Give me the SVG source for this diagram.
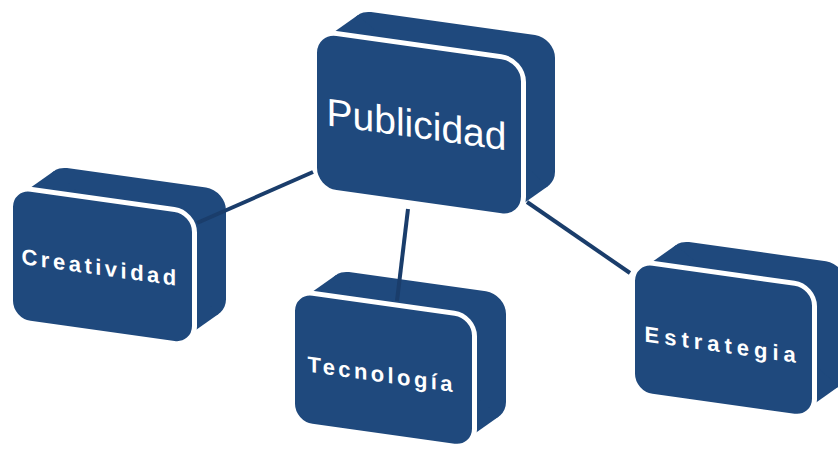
<svg xmlns="http://www.w3.org/2000/svg" width="838" height="449" viewBox="0 0 838 449">
  <style>
    .back { fill: #1F497D; }
    .front { fill: #1F497D; stroke: #FFFFFF; stroke-width: 5; }
    .conn { stroke: #1A3D6B; stroke-width: 4; fill: none; stroke-linecap: butt; }
    .title { font-family: "Liberation Sans", Arial, sans-serif; font-size: 39px; fill: #FFFFFF; }
    .label { font-family: "Liberation Sans", Arial, sans-serif; font-size: 22px; font-weight: bold; fill: #FFFFFF; }
  </style>
  <rect width="838" height="449" fill="#FFFFFF"/>

  <g id="publicidad" transform="translate(314.5,30.5) matrix(1,0.14,0,1,0,0)">
    <rect class="back" x="36.5" y="-26.3" width="204" height="154" rx="20"/>
    <polygon class="back" points="9.6,7.2 43.6,-21.6 233.4,123 199.4,151.8"/>
    <rect class="front" x="0" y="0" width="209" height="159" rx="22"/>
    <text class="title" x="102" y="93" text-anchor="middle">Publicidad</text>
  </g>

  <g id="creatividad" transform="translate(10.5,186.5) matrix(1,0.14,0,1,0,0)">
    <rect class="back" x="36.5" y="-26.3" width="179" height="129" rx="20"/>
    <polygon class="back" points="9.6,7.2 43.6,-21.6 208.4,98 174.4,126.8"/>
    <rect class="front" x="0" y="0" width="184" height="134" rx="20"/>
    <text class="label" x="11" y="76" letter-spacing="3.5">Creatividad</text>
  </g>

  <g id="tecnologia" transform="translate(292.5,290.5) matrix(1,0.14,0,1,0,0)">
    <rect class="back" x="36.5" y="-26.3" width="177" height="128" rx="20"/>
    <polygon class="back" points="9.6,7.2 43.6,-21.6 206.4,97 172.4,125.8"/>
    <rect class="front" x="0" y="0" width="182" height="133" rx="20"/>
    <text class="label" x="15" y="79" letter-spacing="3.4">Tecnología</text>
  </g>

  <g id="estrategia" transform="translate(632.5,260.5) matrix(1,0.14,0,1,0,0)">
    <rect class="back" x="36.5" y="-26.3" width="177" height="128" rx="20"/>
    <polygon class="back" points="9.6,7.2 43.6,-21.6 206.4,97 172.4,125.8"/>
    <rect class="front" x="0" y="0" width="182" height="133" rx="20"/>
    <text class="label" x="12" y="79.4" letter-spacing="5">Estrategia</text>
  </g>

  <g id="connectors">
    <line class="conn" x1="313" y1="172" x2="197" y2="223"/>
    <line class="conn" x1="408" y1="209" x2="397" y2="301"/>
    <line class="conn" x1="527" y1="202" x2="630" y2="273"/>
  </g>
</svg>
